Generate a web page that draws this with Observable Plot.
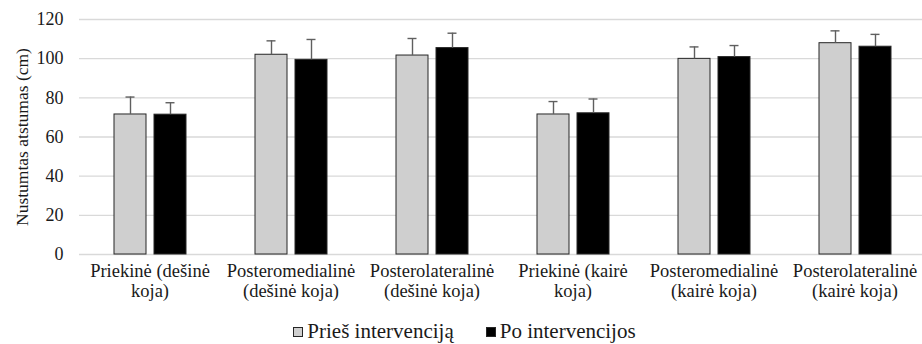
<!DOCTYPE html>
<html>
<head>
<meta charset="utf-8">
<script src="https://cdn.jsdelivr.net/npm/d3@7"></script>
<script src="https://cdn.jsdelivr.net/npm/@observablehq/plot@0.6"></script>
</head>
<body style="margin:0;padding:0;background:#fff;overflow:hidden">
<div id="wrap" style="width:922px;height:344px;overflow:hidden;position:relative">
  <div id="chart" style="width:925px"></div>
  <div id="legend" style="width:922px;height:39px;display:flex;justify-content:center;align-items:center;gap:32px;padding-top:14px;padding-left:7px;box-sizing:border-box"></div>
</div>
<script>
// Reach test directions, mean and standard deviation (cm)
const categories = [
  "Priekinė (dešinė koja)",
  "Posteromedialinė (dešinė koja)",
  "Posterolateralinė (dešinė koja)",
  "Priekinė (kairė koja)",
  "Posteromedialinė (kairė koja)",
  "Posterolateralinė (kairė koja)"
];
const categoryLabels = [
  "Priekinė (dešinė\nkoja)",
  "Posteromedialinė\n(dešinė koja)",
  "Posterolateralinė\n(dešinė koja)",
  "Priekinė (kairė\nkoja)",
  "Posteromedialinė\n(kairė koja)",
  "Posterolateralinė\n(kairė koja)"
];
const series = ["Prieš intervenciją", "Po intervencijos"];
const beforeMean = [71.5, 102.0, 101.6, 71.5, 99.9, 107.9];
const beforeSd   = [8.9, 7.1, 8.7, 6.6, 6.1, 6.3];
const afterMean  = [71.4, 99.4, 105.4, 72.1, 100.8, 106.1];
const afterSd    = [6.1, 10.4, 7.6, 7.3, 5.9, 6.3];
const yTicks = [0, 20, 40, 60, 80, 100, 120];
const seriesColors = ["#cfcfcf", "#000000"];

const serif = "'Liberation Serif', serif";
const textColor = "#1a1a1a";

const rows = [];
categories.forEach((c, i) => {
  rows.push({cat: c, s: series[0], v: beforeMean[i], sd: beforeSd[i]});
  rows.push({cat: c, s: series[1], v: afterMean[i], sd: afterSd[i]});
});
const labelRows = categories.map((c, i) => ({cat: c, label: categoryLabels[i]}));

const chart = Plot.plot({
  width: 925,
  height: 305,
  marginLeft: 79,
  marginRight: 0,
  marginTop: 19,
  marginBottom: 51,
  style: "font-family: " + serif + "; font-size: 18px; color: " + textColor + "; background: #fff;",
  fx: {domain: categories, padding: 0, axis: null, label: null},
  x: {domain: series, paddingInner: 0.2125, paddingOuter: 0.865, axis: null, label: null},
  y: {
    domain: [0, 120],
    ticks: yTicks,
    tickSize: 0,
    tickPadding: 16,
    label: "Nustumtas atstumas (cm)",
    labelAnchor: "center",
    labelArrow: false,
    labelOffset: 64
  },
  color: {domain: series, range: seriesColors},
  marks: [
    Plot.ruleY(yTicks, {stroke: "#d9d9d9", strokeWidth: 1.3}),
    Plot.barY(rows, {
      fx: "cat", x: "s", y: "v", fill: "s",
      stroke: "#262626", strokeWidth: 1
    }),
    Plot.ruleX(rows, {
      fx: "cat", x: "s", y1: "v", y2: d => d.v + d.sd,
      stroke: "#5f5f5f", strokeWidth: 1.4
    }),
    Plot.tickY(rows, {
      fx: "cat", x: "s", y: d => d.v + d.sd,
      stroke: "#5f5f5f", strokeWidth: 1.4, insetLeft: 11.5, insetRight: 11.5
    }),
    Plot.text(labelRows, {
      fx: "cat", text: "label", frameAnchor: "bottom",
      lineAnchor: "top", dy: 8, lineHeight: 1.08,
      fontSize: 18.5, fill: textColor
    })
  ]
});

// Axis title a little smaller than the tick labels
d3.select(chart).selectAll('g[aria-label="y-axis label"] text').style("font-size", "17.5px");
document.getElementById("chart").appendChild(chart);

// Legend below the chart
const legend = document.getElementById("legend");
series.forEach((s, i) => {
  const item = document.createElement("div");
  item.style.cssText = "display:flex;align-items:center";
  const sw = document.createElement("div");
  sw.style.cssText = "width:8px;height:8px;border:1px solid #262626;margin-right:4px;background:" + seriesColors[i];
  const t = document.createElement("span");
  t.style.cssText = "font-family:" + serif + ";font-size:21px;color:" + textColor;
  t.textContent = s;
  item.appendChild(sw);
  item.appendChild(t);
  legend.appendChild(item);
});
</script>
</body>
</html>
